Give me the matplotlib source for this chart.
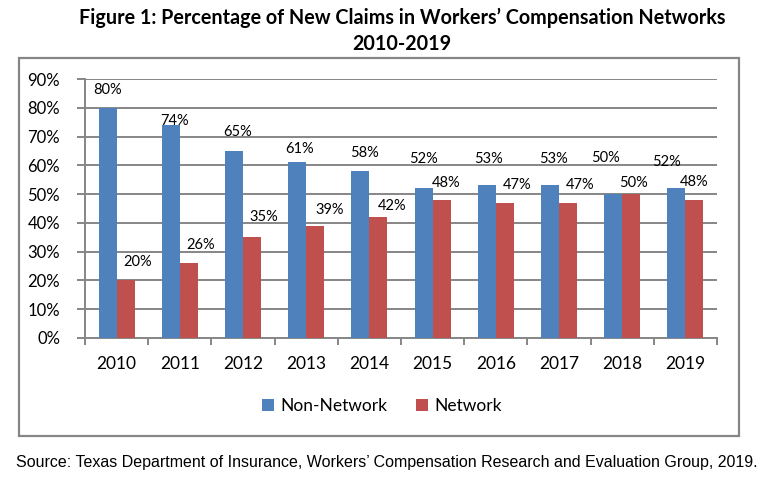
import matplotlib
matplotlib.use("Agg")
import matplotlib.pyplot as plt
from matplotlib.patches import Rectangle
from matplotlib import font_manager
import numpy as np

years = ["2010", "2011", "2012", "2013", "2014", "2015", "2016", "2017", "2018", "2019"]
non_network = [80, 74, 65, 61, 58, 52, 53, 53, 50, 52]
network = [20, 26, 35, 39, 42, 48, 47, 47, 50, 48]
y_ticks = [0, 10, 20, 30, 40, 50, 60, 70, 80, 90]

# label nudges (pixels) as placed in the original chart
blue_off = [(0, 18), (4, 4), (4, 19), (2, 13), (4, 18), (0, 29), (2, 26), (4, 26), (-8, 36), (-10, 26)]
red_off = [(12, 18), (12, 18), (12, 20), (14, 16), (14, 11), (5, 17), (12, 18), (12, 18), (2, 11), (0, 18)]

installed = {f.name for f in font_manager.fontManager.ttflist}
body_font = "Lato" if "Lato" in installed else "DejaVu Sans"
src_font = "Liberation Sans Narrow" if "Liberation Sans Narrow" in installed else "Liberation Sans"

BLUE = "#4F81BD"
RED = "#C0504D"
GRAY = "#868686"

fig = plt.figure(figsize=(7.73, 4.78), dpi=100)
ax = fig.add_axes([85 / 773, 1 - 338 / 478, (717 - 85) / 773, (338 - 79) / 478])

x = np.arange(len(years))
w = 0.285
b1 = ax.bar(x - w / 2, non_network, w, color=BLUE, label="Non-Network", zorder=3)
b2 = ax.bar(x + w / 2, network, w, color=RED, label="Network", zorder=3)

for i in range(len(years)):
    ax.annotate(f"{non_network[i]}%", (x[i] - w / 2, non_network[i]),
                xytext=blue_off[i], textcoords="offset pixels",
                ha="center", va="center", fontsize=10.5, family=body_font, zorder=4)
    ax.annotate(f"{network[i]}%", (x[i] + w / 2, network[i]),
                xytext=red_off[i], textcoords="offset pixels",
                ha="center", va="center", fontsize=10.5, family=body_font, zorder=4)

ax.set_xlim(-0.5, len(years) - 0.5)
ax.set_ylim(0, 90)
ax.set_yticks(y_ticks)
ax.set_yticklabels([f"{t}%" for t in y_ticks], family=body_font, fontsize=12)
ax.yaxis.grid(True, color=GRAY, linewidth=1.4, zorder=0)
ax.set_axisbelow(True)

ax.set_xticks(np.arange(len(years) + 1) - 0.5)
ax.set_xticklabels([])
ax.set_xticks(x, minor=True)
ax.set_xticklabels(years, minor=True, family=body_font, fontsize=12.5)
ax.tick_params(axis="x", which="major", length=5, width=1.4, color=GRAY)
ax.tick_params(axis="x", which="minor", length=0, pad=13)
ax.tick_params(axis="y", length=6, width=1.4, color=GRAY, pad=12)

for s in ["top", "right"]:
    ax.spines[s].set_visible(False)
for s in ["left", "bottom"]:
    ax.spines[s].set_color(GRAY)
    ax.spines[s].set_linewidth(1.4)

fig.legend(handles=[b1, b2], loc="center", bbox_to_anchor=(382 / 773, 1 - 406 / 478),
           ncol=2, frameon=False, prop={"family": body_font, "size": 12.5},
           handlelength=0.7, handleheight=0.7, handletextpad=0.4, columnspacing=1.6)

fig.text(402 / 773, 1 - 18 / 478, "Figure 1: Percentage of New Claims in Workers\u2019 Compensation Networks",
         ha="center", va="center", fontsize=14.2, fontweight="bold", family=body_font)
fig.text(402 / 773, 1 - 44 / 478, "2010-2019",
         ha="center", va="center", fontsize=14.2, fontweight="bold", family=body_font)

fig.patches.append(Rectangle((18.5 / 773, 1 - 435.5 / 478), (739 - 18.5) / 773, (435.5 - 58) / 478,
                             transform=fig.transFigure, fill=False, edgecolor=GRAY, linewidth=1.6))

fig.text(387 / 773, 1 - 462 / 478,
         "Source: Texas Department of Insurance, Workers\u2019 Compensation Research and Evaluation Group, 2019.",
         ha="center", va="center", fontsize=11.5, family=src_font)

fig.savefig("out.png", dpi=100)
